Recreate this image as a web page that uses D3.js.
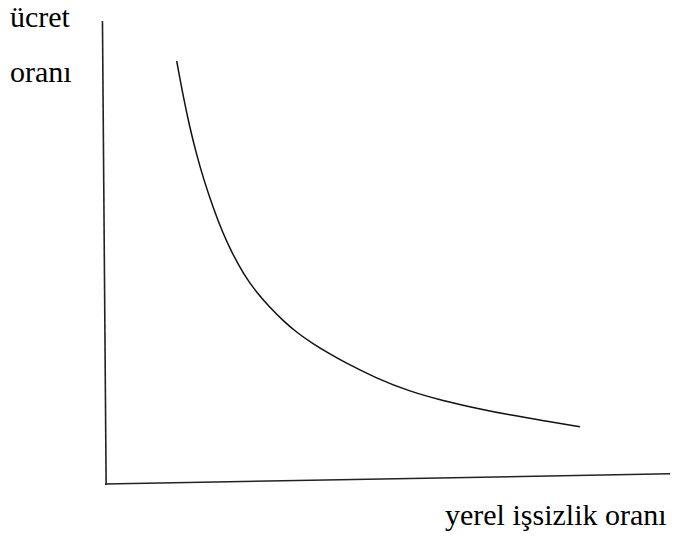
<!DOCTYPE html>
<html>
<head>
<meta charset="utf-8">
<script src="https://cdn.jsdelivr.net/npm/d3@7"></script>
<style>
  body { margin: 0; background: #fff; }
  #wrap { position: relative; width: 679px; height: 538px; }
  #chart { position: absolute; left: 0; top: 0; }
  .lab { position: absolute; font-family: 'Liberation Serif', 'Times New Roman', serif; font-size: 30px; line-height: 30px; white-space: nowrap; color: #000; }
</style>
</head>
<body>
<div id="wrap">
<svg id="chart" width="679" height="538"></svg>
</div>
<script>
// curve, in 0..100 units on both axes
var curveX = [12.69, 13.86, 15.04, 16.23, 17.40, 19.17, 20.88, 22.42, 24.48, 26.85, 29.20, 31.56, 33.93, 36.87, 39.52, 42.12, 48.09, 53.98, 59.82, 65.79, 71.68, 77.52, 84.07]
var curveY = [91.36, 83.59, 76.83, 71.06, 66.03, 59.55, 54.15, 50.07, 45.42, 41.32, 38.12, 35.21, 32.72, 30.24, 28.29, 26.46, 22.79, 19.98, 17.99, 16.35, 14.90, 13.67, 12.38]

// hand drawn axes (slightly slanted)
var yAxisLine = [[0.2, -0.2], [-0.45, 100]]
var xAxisLine = [[0, 0], [100, 2.2]]

// [text, left, baseline]
var labelData = [
  ["ücret", 10, 27],
  ["oranı", 10, 82],
  ["yerel işsizlik oranı", 445, 525]
]

var plotBox = {left: 105, right: 670, top: 21, bottom: 484}

var svg = d3.select("#chart")

var xScale = d3.scaleLinear()
    .domain([0, 100])
    .range([plotBox.left, plotBox.right])
var yScale = d3.scaleLinear()
    .domain([0, 100])
    .range([plotBox.bottom, plotBox.top])

var lineGen = d3.line()
    .x(function(d){ return xScale(d[0]) })
    .y(function(d){ return yScale(d[1]) })

svg.append("path")
    .attr("d", lineGen(yAxisLine))
    .attr("fill", "none")
    .attr("stroke", "#222")
    .attr("stroke-width", 1.6)
svg.append("path")
    .attr("d", lineGen(xAxisLine))
    .attr("fill", "none")
    .attr("stroke", "#222")
    .attr("stroke-width", 1.6)

var points = curveX.map(function(x, i){ return [x, curveY[i]] })
svg.append("path")
    .attr("d", lineGen.curve(d3.curveBasis)(points))
    .attr("fill", "none")
    .attr("stroke", "#111")
    .attr("stroke-width", 1.5)

// labels as html text, baseline sits ~25px below the box top
d3.select("#wrap").selectAll("div.lab")
    .data(labelData)
    .enter()
    .append("div")
    .attr("class", "lab")
    .style("left", function(d){ return d[1] + "px" })
    .style("top", function(d){ return (d[2] - 25) + "px" })
    .text(function(d){ return d[0] })
</script>
</body>
</html>
